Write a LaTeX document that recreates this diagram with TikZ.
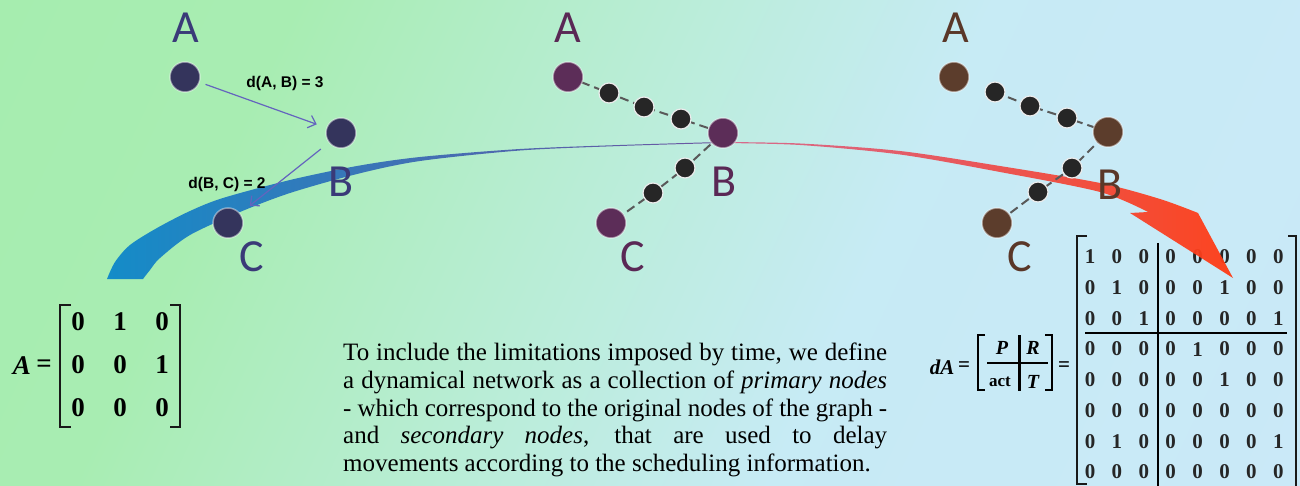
\documentclass[tikz,border=0pt]{standalone}
\usepackage{fontspec}
\setmainfont{Liberation Serif}
\newfontfamily\lblfont{Carlito}
\newfontfamily\edgefont{Liberation Sans}
\usetikzlibrary{arrows.meta}
\definecolor{navy}{RGB}{52,52,92}
\definecolor{navytxt}{RGB}{58,58,120}
\definecolor{plum}{RGB}{92,45,88}
\definecolor{plumtxt}{RGB}{90,40,85}
\definecolor{brown}{RGB}{92,61,44}
\definecolor{browntxt}{RGB}{90,55,40}
\definecolor{arrowblue}{RGB}{100,100,190}
\definecolor{bandL}{RGB}{20,140,200}
\definecolor{bandM}{RGB}{60,128,190}
\definecolor{bandR}{RGB}{110,85,160}
\definecolor{redL}{RGB}{215,100,140}
\definecolor{redM}{RGB}{242,75,85}
\definecolor{redR}{RGB}{255,60,20}
\pgfdeclarehorizontalshading{bgshade}{100bp}{rgb(0bp)=(0.64,0.93,0.67); rgb(30bp)=(0.66,0.93,0.70); rgb(47bp)=(0.73,0.93,0.85); rgb(60bp)=(0.78,0.92,0.96); rgb(100bp)=(0.80,0.91,0.98)}
\tikzset{
  pdot/.style={circle, inner sep=0pt, minimum size=30pt, fill=#1, draw=white, draw opacity=0.45, line width=1.5pt},
  sdot/.style={circle, inner sep=0pt, minimum size=20pt, fill=black!85, draw=white!85!gray, line width=1.2pt},
  lbl/.style={font=\lblfont\fontsize{46}{46}\selectfont, text=#1, inner sep=0pt},
  dashline/.style={draw=black!65, line width=2pt, dash pattern=on 9pt off 5pt},
  garrow/.style={draw=arrowblue, line width=1.2pt, -{Straight Barb[length=7pt,width=13pt]}},
  elabel/.style={font=\edgefont\bfseries\fontsize{15.5}{15.5}\selectfont, inner sep=0pt},
  mdig/.style={font=\bfseries\fontsize{27}{27}\selectfont, inner sep=0pt},
  bdig/.style={font=\bfseries\fontsize{21}{21}\selectfont, text=black!85, inner sep=0pt},
  brk/.style={line width=2.4pt, draw=black!90},
}
\begin{document}
\begin{tikzpicture}[x=1pt,y=-1pt]
\useasboundingbox (0,0) rectangle (1300,486);
\shade[shading=bgshade, shading angle=-25] (0,0) rectangle (1300,486);

% ---- matrix A
\node[font=\bfseries\itshape\fontsize{27}{27}\selectfont, inner sep=0pt] (aA) at (22,366) {A};
\node[font=\bfseries\fontsize{27}{27}\selectfont, inner sep=0pt] (aeq) at (44,366) {=};
\foreach \vals [count=\r] in {{0,1,0},{0,0,1},{0,0,0}}{
  \foreach \v [count=\c] in \vals {
    \node[mdig] (a\r\c) at ({78+42*(\c-1)}, {322+43*(\r-1)}) {\v};
  }
}
\draw[brk] (71,305) -- (60,305) -- (60,427) -- (71,427);
\draw[brk] (170,305) -- (180,305) -- (180,427) -- (170,427);

% ---- matrix dA
\node[font=\bfseries\itshape\fontsize{21}{21}\selectfont, inner sep=0pt] (dAl) at (942,367) {dA};
\node[font=\bfseries\fontsize{21}{21}\selectfont, inner sep=0pt] (dAeq) at (964,367) {=};
\node[font=\bfseries\itshape\fontsize{20}{20}\selectfont, inner sep=0pt] (bP) at (1002,348) {P};
\node[font=\bfseries\itshape\fontsize{20}{20}\selectfont, inner sep=0pt] (bR) at (1033,348) {R};
\node[font=\bfseries\fontsize{17}{17}\selectfont, inner sep=0pt] (bact) at (1000,382) {act};
\node[font=\bfseries\itshape\fontsize{20}{20}\selectfont, inner sep=0pt] (bT) at (1033,382) {T};
\draw[line width=1.6pt] (987,363) -- (1048,363);
\draw[line width=3pt] (1019,335) -- (1019,391);
\draw[line width=2pt] (985,335) -- (978,335) -- (978,390) -- (985,390);
\draw[line width=2pt] (1045,335) -- (1052,335) -- (1052,390) -- (1045,390);
\node[font=\bfseries\fontsize{21}{21}\selectfont, inner sep=0pt] (dAeq2) at (1064,367) {=};
\foreach \vals [count=\r] in {{1,0,0,0,0,0,0,0},{0,1,0,0,0,1,0,0},{0,0,1,0,0,0,0,1},{0,0,0,0,1,0,0,0},{0,0,0,0,0,1,0,0},{0,0,0,0,0,0,0,0},{0,1,0,0,0,0,0,1},{0,0,0,0,0,0,0,0}}{
  \foreach \v [count=\c] in \vals {
    \node[bdig] (d\r-\c) at ({1090+26.9*(\c-1)}, {257+30.7*(\r-1)}) {\v};
  }
}
\draw[line width=2.2pt] (1158,243) -- (1158,486);
\draw[line width=2.2pt] (1085,333) -- (1287,333);
\draw[brk] (1087,236) -- (1077,236) -- (1077,484) -- (1087,484);
\draw[brk] (1288,236) -- (1296,236) -- (1296,486);

% ---- curved band
\shade[left color=bandL, middle color=bandM, right color=bandR]
  plot[smooth] coordinates {(107,279) (115,262) (130,245) (157,228) (190,211) (223,198) (290,180) (357,166) (420,157) (520,149) (620,145) (720,142)}
  -- plot[smooth] coordinates {(720,143) (620,146) (520,150.5) (420,161) (357,174) (290,193) (240,212) (190,235) (160,258) (150,270) (143,279)}
  -- cycle;
\shade[left color=redL, middle color=redM, right color=redR, opacity=0.95]
  plot[smooth] coordinates {(720,142) (800,143.5) (900,151) (1000,166) (1100,183) (1160,199) (1198,213)}
  -- (1233,278) -- (1130,213) -- (1148,212)
  -- plot[smooth] coordinates {(1148,212) (1100,192) (1000,172) (900,154.5) (800,145) (720,143)}
  -- cycle;

% ---- graph 1
\node[pdot=navy] (g1a) at (185,77) {};
\node[pdot=navy] (g1b) at (341,133) {};
\node[pdot=navy] (g1c) at (228,223) {};
\node[lbl=navytxt] (g1la) at (186,28) {A};
\node[lbl=navytxt] (g1lb) at (341,182) {B};
\node[lbl=navytxt] (g1lc) at (252,257) {C};
\draw[garrow, shorten <=6pt, shorten >=10pt] (g1a) -- (g1b);
\draw[garrow, shorten <=10pt, shorten >=12pt] (g1b) -- (g1c);
\node[elabel] (e1) at (285,83) {d(A, B) = 3};
\node[elabel] (e2) at (227,184) {d(B, C) = 2};

% ---- graph 2
\coordinate (p2a) at (568,77);
\coordinate (p2s1) at (609,93);
\coordinate (p2s2) at (644,107);
\coordinate (p2s3) at (681,119);
\coordinate (p2b) at (723,133);
\coordinate (p2s4) at (685,168);
\coordinate (p2s5) at (653,193);
\coordinate (p2c) at (611,223);
\draw[dashline] (p2a) -- (p2s1) -- (p2s2) -- (p2s3) -- (p2b) -- (p2s4) -- (p2s5) -- (p2c);
\node[pdot=plum] (g2a) at (p2a) {};
\node[sdot] (g2s1) at (p2s1) {};
\node[sdot] (g2s2) at (p2s2) {};
\node[sdot] (g2s3) at (p2s3) {};
\node[pdot=plum] (g2b) at (p2b) {};
\node[sdot] (g2s4) at (p2s4) {};
\node[sdot] (g2s5) at (p2s5) {};
\node[pdot=plum] (g2c) at (p2c) {};
\node[lbl=plumtxt] (g2la) at (568,28) {A};
\node[lbl=plumtxt] (g2lb) at (724,182) {B};
\node[lbl=plumtxt] (g2lc) at (633,257) {C};

% ---- graph 3
\coordinate (p3a) at (954,77);
\coordinate (p3s1) at (995,92);
\coordinate (p3s2) at (1030,106);
\coordinate (p3s3) at (1067,118);
\coordinate (p3b) at (1108,132);
\coordinate (p3s4) at (1072,168);
\coordinate (p3s5) at (1038,192);
\coordinate (p3c) at (997,223);
\draw[dashline] (p3s1) -- (p3s2) -- (p3s3) -- (p3b) -- (p3s4) -- (p3s5) -- (p3c);
\node[pdot=brown] (g3a) at (p3a) {};
\node[sdot] (g3s1) at (p3s1) {};
\node[sdot] (g3s2) at (p3s2) {};
\node[sdot] (g3s3) at (p3s3) {};
\node[pdot=brown] (g3b) at (p3b) {};
\node[sdot] (g3s4) at (p3s4) {};
\node[sdot] (g3s5) at (p3s5) {};
\node[pdot=brown] (g3c) at (p3c) {};
\node[lbl=browntxt] (g3la) at (956,28) {A};
\node[lbl=browntxt] (g3lb) at (1110,185) {B};
\node[lbl=browntxt] (g3lc) at (1020,257) {C};

% ---- paragraph
\node[anchor=north west, inner sep=0pt, text width=544pt, align=justify,
      font=\fontsize{25}{27.6}\selectfont] (para) at (343,343)
  {To include the limitations imposed by time, we define\linebreak
   a dynamical network as a collection of \textit{primary nodes}\linebreak
   - which correspond to the original nodes of the graph -\linebreak
   and \textit{secondary nodes}, that are used to delay\linebreak
   movements according to the scheduling information.};
\end{tikzpicture}
\end{document}
